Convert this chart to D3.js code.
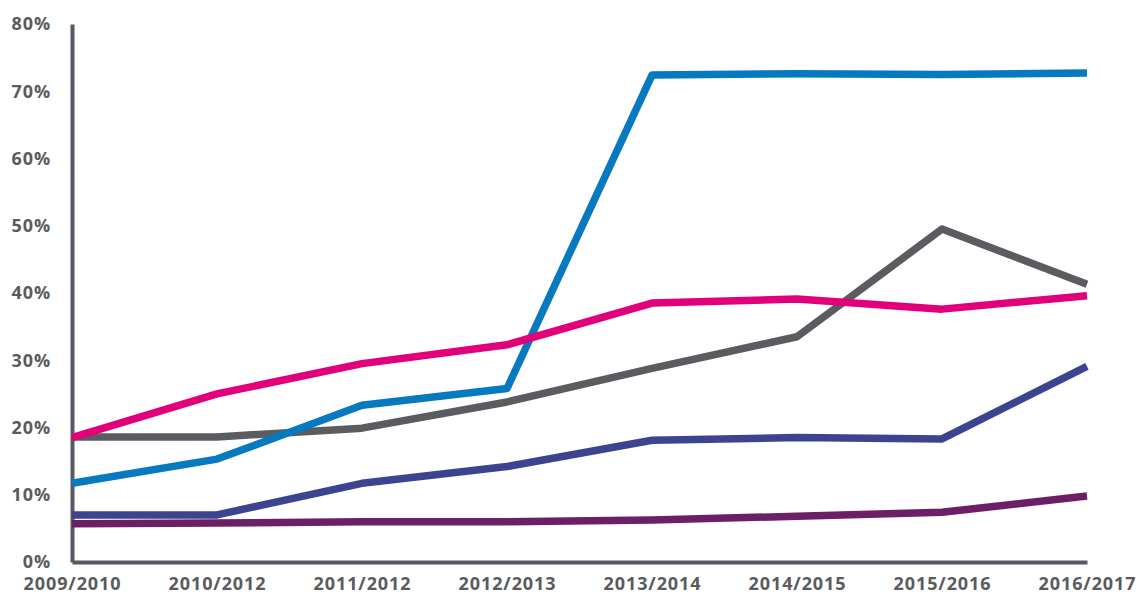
<!DOCTYPE html>
<html>
<head>
<meta charset="utf-8">
<script src="https://cdn.jsdelivr.net/npm/d3@7"></script>
<style>
  body { margin: 0; background: #fff; }
  svg text { font-family: "Open Sans", sans-serif; font-weight: 700; fill: #5a5b5e; }
</style>
</head>
<body>
<div id="viz"></div>
<script>
var years = ['2009/2010', '2010/2012', '2011/2012', '2012/2013', '2013/2014', '2014/2015', '2015/2016', '2016/2017'];
var yTicks = [0, 10, 20, 30, 40, 50, 60, 70, 80];

var purpleVals = [5.7, 5.8, 6.0, 6.0, 6.25, 6.8, 7.4, 9.8];
var navyVals = [7.0, 7.0, 11.7, 14.2, 18.1, 18.5, 18.3, 29.1];
var greyVals = [18.6, 18.6, 19.9, 23.8, 28.8, 33.5, 49.5, 41.3];
var blueVals = [11.7, 15.3, 23.3, 25.8, 72.4, 72.6, 72.5, 72.7];
var pinkVals = [18.5, 25.0, 29.5, 32.3, 38.5, 39.1, 37.6, 39.6];

var series = [
  { vals: purpleVals, col: '#6d1f66' },
  { vals: navyVals, col: '#3d448f' },
  { vals: greyVals, col: '#5a5c60' },
  { vals: blueVals, col: '#0779bf' },
  { vals: pinkVals, col: '#e2007a' }
];

var w = 1136, h = 594;

var svg = d3.select('#viz')
            .append('svg')
            .attr('width', w)
            .attr('height', h)

var x = d3.scalePoint().domain(years).range([72, 1087])
var y = d3.scaleLinear().domain([0, 80]).range([562, 24])

// axes
var yAxis = d3.axisLeft(y).tickValues(yTicks).tickSize(0).tickSizeOuter(0).tickPadding(21)
  .tickFormat(d => d + '%')
var xAxis = d3.axisBottom(x).tickSize(0).tickSizeOuter(0).tickPadding(15)

svg.append('g')
  .attr('transform', 'translate(0,' + y(0) + ')')
  .call(xAxis)
svg.append('g')
  .attr('transform', 'translate(' + x(years[0]) + ',0)')
  .call(yAxis)

svg.selectAll('.domain')
  .attr('stroke', '#575a62')
  .attr('stroke-width', 4)

svg.selectAll('.tick text')
  .style('font-size', '18px')
  .style('letter-spacing', '0.9px')

// lines
var line = d3.line()
  .x((d, i) => x(years[i]))
  .y(d => y(d))

svg.append('g')
  .selectAll('path')
  .data(series)
  .enter()
  .append('path')
  .attr('d', d => line(d.vals))
  .attr('fill', 'none')
  .attr('stroke', d => d.col)
  .attr('stroke-width', 7.5)
  .attr('stroke-linejoin', 'round')
  .attr('stroke-linecap', 'butt')
</script>
</body>
</html>
